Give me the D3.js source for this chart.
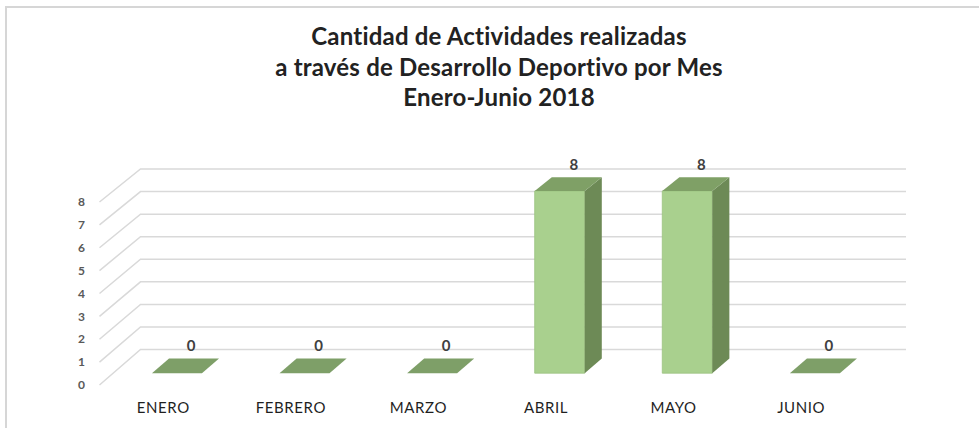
<!DOCTYPE html>
<html>
<head>
<meta charset="utf-8">
<script src="https://cdn.jsdelivr.net/npm/d3@7"></script>
<style>
  body { margin: 0; background: #fff; }
  svg { display: block; }
</style>
</head>
<body>
<div id="chart"></div>
<script>
// data
var months = ["ENERO", "FEBRERO", "MARZO", "ABRIL", "MAYO", "JUNIO"];
var actividades = [0, 0, 0, 8, 8, 0];
var yTicks = [0, 1, 2, 3, 4, 5, 6, 7, 8];
var titleLines = ["Cantidad de Actividades realizadas",
                  "a través de Desarrollo Deportivo por Mes",
                  "Enero-Junio 2018"];

var width = 979, height = 428;

var svg = d3.select("#chart").append("svg")
    .attr("width", width)
    .attr("height", height);

// chart frame (cropped at right and bottom)
svg.append("path")
    .attr("d", "M6,428 L6,7 L979,7")
    .attr("fill", "none")
    .attr("stroke", "#d6d6d6")
    .attr("stroke-width", 2);

// title
svg.append("g").selectAll("text")
    .data(titleLines)
  .enter().append("text")
    .attr("x", 499)
    .attr("y", function (d, i) { return 45 + i * 30.5; })
    .attr("text-anchor", "middle")
    .style("font-family", "Lato, 'DejaVu Sans', sans-serif")
    .style("font-weight", "bold")
    .style("font-size", "24px")
    .style("letter-spacing", "0.2px")
    .style("fill", "#222")
    .text(function (d) { return d; });

// scales: front plane and back wall of the 3d box
var x = d3.scaleBand()
    .domain(months)
    .range([99.5, 865]);

var yFront = d3.scaleLinear().domain([0, 8]).range([385, 202]);
var yBack = d3.scaleLinear().domain([0, 8]).range([349.5, 169]);
var depthX = 41;

function project(px, v, d) {
  var yf = yFront(v), yb = yBack(v);
  return [px + d * depthX, yf + d * (yb - yf)];
}

// gridlines: back wall + left side wall
var grid = svg.append("g");
yTicks.forEach(function (t) {
  var a = project(x.range()[0], t, 0),
      b = project(x.range()[0], t, 1),
      c = project(x.range()[1], t, 1);
  grid.append("path")
    .attr("d", d3.line()([a, b, c]))
    .attr("fill", "none")
    .attr("stroke", "#d9d9d9")
    .attr("stroke-width", 1.5);
});

// y axis labels
svg.append("g").selectAll("text")
    .data(yTicks)
  .enter().append("text")
    .attr("x", 85)
    .attr("y", function (d) { return yFront(d); })
    .attr("dy", "0.35em")
    .attr("text-anchor", "end")
    .style("font-family", "Lato, 'DejaVu Sans', sans-serif")
    .style("font-weight", "bold")
    .style("font-size", "12px")
    .style("fill", "#595959")
    .text(function (d) { return d; });

// category labels
svg.append("g").selectAll("text")
    .data(months)
  .enter().append("text")
    .attr("x", function (d) { return x(d) + x.bandwidth() / 2; })
    .attr("y", 408)
    .attr("dy", "0.35em")
    .attr("text-anchor", "middle")
    .style("font-family", "Lato, 'DejaVu Sans', sans-serif")
    .style("font-size", "15px")
    .style("letter-spacing", "0.6px")
    .style("fill", "#1f1f1f")
    .text(function (d) { return d; });

// 3d columns
var barW = 50, d1 = 0.333, d2 = 0.75;
var bars = svg.append("g");

months.forEach(function (m, i) {
  var v = actividades[i];
  var xl = x(m) + x.bandwidth() / 2 - barW / 2,
      xr = xl + barW;
  var g = bars.append("g");

  if (v > 0) {
    // front face
    g.append("path")
      .attr("d", d3.line()([project(xl, 0, d1), project(xl, v, d1), project(xr, v, d1), project(xr, 0, d1)]) + "Z")
      .attr("fill", "#a9d08e")
      .attr("stroke", "#9cc380")
      .attr("stroke-width", 0.8);
    // side face
    g.append("path")
      .attr("d", d3.line()([project(xr, 0, d1), project(xr, v, d1), project(xr, v, d2), project(xr, 0, d2)]) + "Z")
      .attr("fill", "#6d8a56");
  }
  // top face (the only face seen when the value is 0)
  g.append("path")
    .attr("d", d3.line()([project(xl, v, d1), project(xr, v, d1), project(xr, v, d2), project(xl, v, d2)]) + "Z")
    .attr("fill", v > 0 ? "#7fa066" : "#7e9f68");

  // value label
  var top = project(xl + barW / 2 - 3, v, d2);
  g.append("text")
    .attr("x", top[0])
    .attr("y", top[1] - 13)
    .attr("dy", "0.35em")
    .attr("text-anchor", "middle")
    .style("font-family", "Lato, 'DejaVu Sans', sans-serif")
    .style("font-weight", "bold")
    .style("font-size", "15px")
    .style("fill", "#404040")
    .text(v);
});
</script>
</body>
</html>
